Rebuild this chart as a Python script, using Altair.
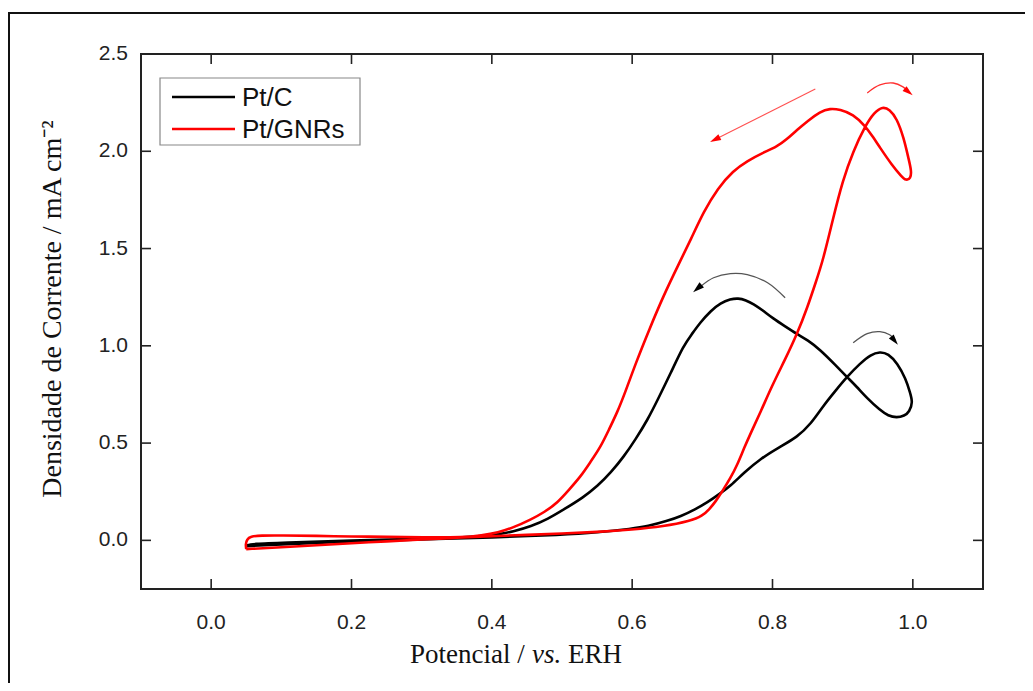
import altair as alt
import pandas as pd

# ---------------- data ----------------
series = ["Pt/C", "Pt/GNRs"]
colors = ["#000000", "#ff0000"]

ptc_x = [0.05, 0.1, 0.2, 0.3, 0.4, 0.5, 0.55, 0.6, 0.622, 0.65, 0.669, 0.69, 0.707, 0.725, 0.74,
         0.76, 0.783, 0.81, 0.835, 0.855, 0.872, 0.89, 0.906, 0.925, 0.94, 0.953, 0.965, 0.978,
         0.99, 0.996, 1.0,
         0.995, 0.988, 0.977, 0.965, 0.953, 0.935, 0.92, 0.906, 0.89, 0.868, 0.85, 0.835, 0.818,
         0.801, 0.785, 0.773, 0.762, 0.751, 0.74, 0.726, 0.712, 0.697, 0.685, 0.673, 0.655, 0.636,
         0.622, 0.605, 0.588, 0.57, 0.551, 0.53, 0.503, 0.48, 0.456, 0.43, 0.409, 0.38, 0.35, 0.3,
         0.2, 0.1, 0.06, 0.05, 0.05]
ptc_y = [-0.03, -0.02, -0.005, 0.005, 0.015, 0.028, 0.04, 0.06, 0.072, 0.10, 0.123, 0.16, 0.195,
         0.24, 0.28, 0.35, 0.42, 0.48, 0.53, 0.60, 0.69, 0.77, 0.84, 0.91, 0.955, 0.97, 0.96, 0.91,
         0.83, 0.76, 0.71,
         0.66, 0.64, 0.63, 0.64, 0.67, 0.73, 0.79, 0.84, 0.90, 0.98, 1.03, 1.06, 1.10, 1.14, 1.185,
         1.215, 1.235, 1.245, 1.24, 1.22, 1.18, 1.12, 1.06, 1.0, 0.86, 0.72, 0.62, 0.52, 0.43, 0.35,
         0.28, 0.22, 0.16, 0.11, 0.072, 0.045, 0.03, 0.02, 0.013, 0.008, 0.0, -0.012, -0.018, -0.025,
         -0.03]

gnr_x = [0.05, 0.1, 0.15, 0.2, 0.25, 0.3, 0.35, 0.4, 0.45, 0.5, 0.55, 0.6, 0.645, 0.683, 0.7,
         0.71, 0.719, 0.728, 0.74, 0.75, 0.759, 0.77, 0.783, 0.8, 0.818, 0.835, 0.85, 0.862, 0.872,
         0.886, 0.9, 0.915, 0.932, 0.945, 0.957, 0.967, 0.977, 0.987, 0.994, 0.998, 0.997,
         0.99, 0.984, 0.97, 0.953, 0.942, 0.932, 0.915, 0.896, 0.882, 0.868, 0.85, 0.835, 0.82,
         0.807, 0.785, 0.764, 0.744, 0.722, 0.702, 0.684, 0.665, 0.645, 0.625, 0.605, 0.59, 0.579,
         0.567, 0.555, 0.54, 0.527, 0.51, 0.494, 0.475, 0.456, 0.43, 0.409, 0.385, 0.361, 0.3, 0.25,
         0.2, 0.15, 0.1, 0.07, 0.056, 0.051, 0.049, 0.05]
gnr_y = [-0.045, -0.035, -0.025, -0.015, -0.005, 0.005, 0.013, 0.022, 0.028, 0.035, 0.043, 0.055,
         0.072, 0.10, 0.125, 0.16, 0.20, 0.25, 0.32, 0.39, 0.47, 0.56, 0.66, 0.80, 0.93, 1.06, 1.20,
         1.33, 1.44, 1.65, 1.85, 2.00, 2.13, 2.20, 2.23, 2.215, 2.17, 2.07, 1.96, 1.90, 1.86,
         1.85, 1.87, 1.93, 2.02, 2.08, 2.13, 2.19, 2.215, 2.22, 2.205, 2.155, 2.11, 2.06, 2.025, 1.99,
         1.95, 1.90, 1.81, 1.69, 1.55, 1.41, 1.26, 1.09, 0.91, 0.76, 0.66, 0.57, 0.48, 0.40, 0.33,
         0.26, 0.195, 0.145, 0.108, 0.065, 0.04, 0.025, 0.015, 0.015, 0.018, 0.02, 0.023, 0.025,
         0.025, 0.02, 0.005, -0.02, -0.045]

x_ticks = [0.0, 0.2, 0.4, 0.6, 0.8, 1.0]
y_ticks = [0.0, 0.5, 1.0, 1.5, 2.0, 2.5]

# annotation arrows (data units)
arc_black_big_x = [0.818, 0.793, 0.764, 0.740, 0.716, 0.697]
arc_black_big_y = [1.247, 1.324, 1.366, 1.371, 1.350, 1.304]
arc_black_small_x = [0.915, 0.935, 0.953, 0.967, 0.975]
arc_black_small_y = [1.016, 1.063, 1.073, 1.057, 1.030]
arc_red_x = [0.935, 0.953, 0.972, 0.986, 0.994]
arc_red_y = [2.300, 2.341, 2.351, 2.331, 2.305]
line_red_x = [0.861, 0.718]
line_red_y = [2.320, 2.060]
heads_black_x = [0.693, 0.974]
heads_black_y = [1.294, 1.027]
heads_red_x = [0.994, 0.718]
heads_red_y = [2.305, 2.060]

# ---------------- build ----------------
W, H = 842, 535
xs = alt.Scale(domain=[-0.1, 1.1], nice=False, zero=False)
ys = alt.Scale(domain=[-0.25, 2.5], nice=False, zero=False)
cs = alt.Scale(domain=series, range=colors)

def curve_df(xv, yv, name):
    return pd.DataFrame({"x": xv, "y": yv, "series": name, "i": range(len(xv))})

df_c = curve_df(ptc_x, ptc_y, series[0])
df_g = curve_df(gnr_x, gnr_y, series[1])

def curve(df):
    return alt.Chart(df).mark_line(strokeWidth=2.6, interpolate="basis").encode(
        x=alt.X("x:Q", scale=xs, axis=None),
        y=alt.Y("y:Q", scale=ys, axis=None),
        color=alt.Color("series:N", scale=cs, legend=None),
        order="i:Q",
    )

line_c = curve(df_c)
line_g = curve(df_g)

# inward ticks on all four sides, and tick labels
dfx = pd.DataFrame({"v": x_ticks, "lab": [f"{v:.1f}" for v in x_ticks]})
dfy = pd.DataFrame({"v": y_ticks, "lab": [f"{v:.1f}" for v in y_ticks]})
tick_style = dict(color="#222", strokeWidth=1.6)
t_bottom = alt.Chart(dfx).mark_rule(**tick_style).encode(
    x=alt.X("v:Q", scale=xs, axis=None), y=alt.value(H), y2=alt.value(H - 10))
t_top = alt.Chart(dfx).mark_rule(**tick_style).encode(
    x=alt.X("v:Q", scale=xs, axis=None), y=alt.value(0), y2=alt.value(10))
t_left = alt.Chart(dfy).mark_rule(**tick_style).encode(
    y=alt.Y("v:Q", scale=ys, axis=None), x=alt.value(0), x2=alt.value(10))
t_right = alt.Chart(dfy).mark_rule(**tick_style).encode(
    y=alt.Y("v:Q", scale=ys, axis=None), x=alt.value(W), x2=alt.value(W - 10))
label_style = dict(font="Liberation Sans", fontSize=21, color="#222", baseline="middle")
x_labels = alt.Chart(dfx).mark_text(align="center", **label_style).encode(
    x=alt.X("v:Q", scale=xs, axis=None), y=alt.value(H + 34), text="lab:N")
y_labels = alt.Chart(dfy).mark_text(align="right", **label_style).encode(
    y=alt.Y("v:Q", scale=ys, axis=None), x=alt.value(-13), text="lab:N")

# arrows
def arc(xv, yv, color, width):
    d = pd.DataFrame({"x": xv, "y": yv, "i": range(len(xv))})
    return alt.Chart(d).mark_line(color=color, strokeWidth=width, interpolate="catmull-rom").encode(
        x=alt.X("x:Q", scale=xs, axis=None), y=alt.Y("y:Q", scale=ys, axis=None), order="i:Q")

ARROW = "M0,-1L0.6,1L-0.6,1Z"

def head(x, y, color, angle, size):
    d = pd.DataFrame({"x": [x], "y": [y]})
    return alt.Chart(d).mark_point(shape=ARROW, filled=True, color=color, opacity=1,
                                   size=size, angle=angle).encode(
        x=alt.X("x:Q", scale=xs, axis=None), y=alt.Y("y:Q", scale=ys, axis=None))

a1 = arc(arc_black_big_x, arc_black_big_y, "#555555", 1.3)
a2 = arc(arc_black_small_x, arc_black_small_y, "#555555", 1.3)
a3 = arc(arc_red_x, arc_red_y, "#ff3030", 1.3)
a4 = arc(line_red_x, line_red_y, "#ff5050", 1.1)
h1 = head(heads_black_x[0], heads_black_y[0], "#000000", 229, 130)
h2 = head(heads_black_x[1], heads_black_y[1], "#000000", 141, 110)
h3 = head(heads_red_x[0], heads_red_y[0], "#ff0000", 129, 110)
h4 = head(heads_red_x[1], heads_red_y[1], "#ff0000", 243, 120)

# legend (manual)
one = pd.DataFrame({"a": [0]})
leg_box = alt.Chart(one).mark_rect(
    fill="white", stroke="#888888", strokeWidth=1.2).encode(
    x=alt.value(19), x2=alt.value(219), y=alt.value(24), y2=alt.value(91))
leg_layers = []
for k, (name, col) in enumerate(zip(series, colors)):
    yy = 43 + 32 * k
    leg_layers.append(alt.Chart(one).mark_rule(strokeWidth=2.6, color=col).encode(
        x=alt.value(31), x2=alt.value(94), y=alt.value(yy)))
    leg_layers.append(alt.Chart(pd.DataFrame({"t": [name]})).mark_text(
        align="left", baseline="middle", font="Liberation Sans", fontSize=26, color="#111").encode(
        x=alt.value(101), y=alt.value(yy + 1), text="t:N"))

# axis titles (manual so "vs." can be italic)
title_font = "Liberation Serif"
xt1 = alt.Chart(pd.DataFrame({"t": ["Potencial /"]})).mark_text(
    align="left", baseline="alphabetic", font=title_font, fontSize=27, color="#111").encode(
    x=alt.value(269), y=alt.value(609), text="t:N")
xt2 = alt.Chart(pd.DataFrame({"t": ["vs."]})).mark_text(
    align="left", baseline="alphabetic", font=title_font, fontSize=27, fontStyle="italic",
    color="#111").encode(x=alt.value(391), y=alt.value(609), text="t:N")
xt3 = alt.Chart(pd.DataFrame({"t": ["ERH"]})).mark_text(
    align="left", baseline="alphabetic", font=title_font, fontSize=27, color="#111").encode(
    x=alt.value(427), y=alt.value(609), text="t:N")
yt = alt.Chart(pd.DataFrame({"t": ["Densidade de Corrente / mA cm\u207b\u00b2"]})).mark_text(
    align="center", baseline="middle", font=title_font, fontSize=28, angle=270,
    color="#111").encode(x=alt.value(-88), y=alt.value(255), text="t:N")

# outer figure border (top and left edges visible)
border_top = alt.Chart(one).mark_rule(color="#111", strokeWidth=2).encode(
    x=alt.value(-133), x2=alt.value(884), y=alt.value(-41))
border_left = alt.Chart(one).mark_rule(color="#111", strokeWidth=2).encode(
    x=alt.value(-132), y=alt.value(-42), y2=alt.value(640))

chart = alt.layer(
    line_c, line_g,
    border_top, border_left,
    t_bottom, t_top, t_left, t_right, x_labels, y_labels,
    a1, a2, a3, a4, h1, h2, h3, h4,
    leg_box, *leg_layers,
    xt1, xt2, xt3, yt,
).properties(
    width=W, height=H,
    padding={"left": 133, "top": 46, "right": 42, "bottom": 94},
    autosize=alt.AutoSizeParams(type="none"),
    background="white",
).configure_view(stroke="#222", strokeWidth=2)

chart.save("out.html", embed_options={"renderer": "svg", "actions": False})
